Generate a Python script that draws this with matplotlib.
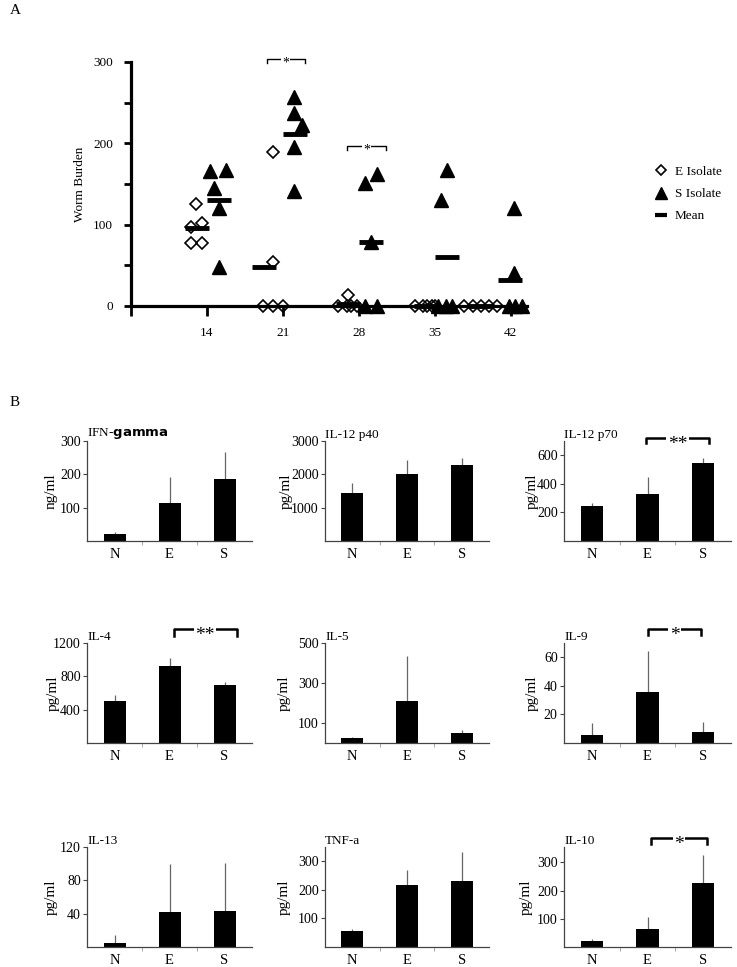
import numpy as np
import matplotlib.pyplot as plt
from matplotlib.lines import Line2D
from matplotlib.transforms import blended_transform_factory

plt.rcParams['font.family'] = ['Liberation Serif', 'DejaVu Serif']
plt.rcParams['mathtext.fontset'] = 'dejavusans'

# ---- panel A: worm burden, individual mice (x = day, jittered as in the figure)
days = [14, 21, 28, 35, 42]
e_x = [12.55, 13.55, 12.55, 13.55, 13.0,
       20.1, 20.1, 19.2, 20.1, 21.0,
       27.0, 26.05, 26.9, 27.8, 27.3,
       33.2, 33.9, 34.3, 34.7, 35.0,
       37.7, 38.5, 39.3, 40.0, 40.7]
e_y = [78, 78, 97, 102, 126,
       189, 54, 0, 0, 0,
       14, 0, 0, 0, 0,
       0, 0, 0, 0, 0,
       0, 0, 0, 0, 0]
s_x = [14.3, 15.8, 14.65, 15.1, 15.1,
       22.0, 22.0, 22.76, 22.0, 22.0,
       28.6, 29.7, 29.1, 28.6, 29.7,
       36.1, 35.6, 35.3, 36.0, 36.6,
       42.3, 42.3, 41.8, 42.4, 43.0]
s_y = [166, 167, 145, 120, 48,
       257, 237, 222, 196, 141,
       151, 162, 79, 0, 0,
       167, 130, 0, 0, 0,
       120, 40, 0, 0, 0]
mean_x = [13.05, 19.24, 27.0, 34.2, 39.2,
          15.15, 22.1, 29.1, 36.1, 41.9]
mean_y = [96, 48, 3, 0, 0,
          130, 212, 79, 60, 32]

# ---- panel B: cytokines
groups = ['N', 'E', 'S']
cytokines = ['IFN-$\\mathbf{gamma}$', 'IL-12 p40', 'IL-12 p70',
             'IL-4', 'IL-5', 'IL-9',
             'IL-13', 'TNF-a', 'IL-10']
units = ['ng/ml', 'pg/ml', 'pg/ml', 'pg/ml', 'pg/ml', 'pg/ml',
         'pg/ml', 'pg/ml', 'pg/ml']
values = [[21, 114, 187], [1430, 2010, 2280], [247, 328, 546],
          [500, 930, 700], [27, 212, 50], [5.4, 35.5, 8.0],
          [5, 42, 43], [55, 217, 232], [23, 65, 227]]
errors = [[5, 78, 79], [310, 430, 210], [19, 118, 33],
          [80, 90, 33], [5, 225, 17], [8.4, 29.2, 7.0],
          [10, 58, 58], [7, 52, 100], [5, 41, 99]]
ymax = [300, 3000, 700, 1200, 500, 70, 120, 350, 355]
yticks = [[100, 200, 300], [1000, 2000, 3000], [200, 400, 600],
          [400, 800, 1200], [100, 300, 500], [20, 40, 60],
          [40, 80, 120], [100, 200, 300], [100, 200, 300]]
# significance: panel index -> (label, x0, x1, y in axes frac, leg)
signif = {2: ('**', 0.98, 2.1, 1.03, 0.05),
          3: ('**', 1.08, 2.22, 1.14, 0.07),
          5: ('*', 1.0, 1.97, 1.14, 0.06),
          8: ('*', 1.07, 2.06, 1.09, 0.06)}

W, H = 737, 967
fig = plt.figure(figsize=(W / 100, H / 100), dpi=100)


def px_axes(l, t, r, b):
    return fig.add_axes([l / W, 1 - b / H, (r - l) / W, (b - t) / H])


def star(ax, trans, xm, y, txt, fs):
    ax.annotate(txt, xy=(xm, y), xycoords=trans, xytext=(0, -0.55 * fs),
                textcoords='offset points', ha='center', va='baseline',
                fontsize=fs, annotation_clip=False,
                bbox=dict(fc='white', ec='none', pad=1.0))


# ================= A
ax = px_axes(131, 62, 527, 306)
ax.plot(e_x, e_y, ls='none', marker='D', ms=6.3, mfc='none', mec='black',
        mew=1.2, clip_on=False, zorder=3)
ax.plot(s_x, s_y, ls='none', marker='^', ms=10, color='black',
        clip_on=False, zorder=4)
ax.plot(mean_x, mean_y, ls='none', marker='_', ms=17, mew=3.5,
        color='black', clip_on=False, zorder=5)
ax.set_xlim(7, 43.5)
ax.set_ylim(0, 300)
for s in ['top', 'right']:
    ax.spines[s].set_visible(False)
for s in ['left', 'bottom']:
    ax.spines[s].set_linewidth(2.3)
ax.set_yticks([0, 100, 200, 300])
ax.set_yticks([50, 150, 250], minor=True)
ax.tick_params(axis='y', which='both', direction='out', length=5, width=2,
               pad=8, labelsize=9.5)
ax.set_xticks([7] + days)
ax.set_xticklabels([''] + [str(d) for d in days])
ax.tick_params(axis='x', direction='out', length=7, width=2, pad=8,
               labelsize=9.5)
ax.set_ylabel('Worm Burden', fontsize=9.5)
ax.yaxis.set_label_coords(-0.113, 0.5)

for x0, x1, y in [(19.5, 23.0, 304), (26.9, 30.5, 197)]:
    ax.plot([x0, x0, x1, x1], [y - 5, y, y, y - 5], color='black', lw=1.0,
            clip_on=False)
    star(ax, ax.transData, (x0 + x1) / 2, y, '*', 10)

handles = [Line2D([], [], ls='none', marker='D', ms=5, mfc='none',
                  mec='black', mew=1.2),
           Line2D([], [], ls='none', marker='^', ms=8, color='black'),
           Line2D([], [], ls='none', marker='_', ms=8, mew=3, color='black')]
fig.legend(handles, ['E Isolate', 'S Isolate', 'Mean'], loc='center left',
           bbox_to_anchor=(643 / W, 1 - 194 / H), frameon=False,
           fontsize=9.5, handlelength=1.0, handletextpad=0.5,
           labelspacing=0.75)

fig.text(10 / W, 1 - 10 / H, 'A', fontsize=11, va='center', ha='left')
fig.text(10 / W, 1 - 403 / H, 'B', fontsize=11, va='center', ha='left')

# ================= B
lefts = [87, 325, 564]
rights = [252, 489, 731]
tops = [441, 643, 847]
bottoms = [541, 743, 947]
ylab_x = [50, 285, 531, 52, 283, 531, 50, 283, 525]

for i in range(9):
    r, c = divmod(i, 3)
    ax = px_axes(lefts[c], tops[r], rights[c], bottoms[r])
    xs = np.arange(len(groups))
    ax.bar(xs, values[i], width=0.4, color='black', zorder=2)
    ax.errorbar(xs, values[i], yerr=[[0, 0, 0], errors[i]], fmt='none',
                ecolor='#666666', elinewidth=0.9, capsize=0, zorder=1)
    ax.set_xlim(-0.5, 2.5)
    ax.set_ylim(0, ymax[i])
    for s in ['top', 'right']:
        ax.spines[s].set_visible(False)
    for s in ['left', 'bottom']:
        ax.spines[s].set_linewidth(0.9)
        ax.spines[s].set_color('#444444')
    ax.set_yticks(yticks[i])
    ax.tick_params(axis='y', length=3, width=0.8, color='#444444', pad=1.5,
                   labelsize=10)
    ax.set_xticks(xs)
    ax.set_xticklabels(groups)
    ax.set_xticks([0.5, 1.5], minor=True)
    ax.tick_params(axis='x', which='major', length=0, pad=5, labelsize=10.5)
    ax.tick_params(axis='x', which='minor', length=3, width=0.6,
                   color='#999999')
    ax.set_ylabel(units[i], fontsize=11)
    w = rights[c] - lefts[c]
    ax.yaxis.set_label_coords((ylab_x[i] + 8 - lefts[c]) / w, 0.5)
    ax.text(0.0, 1.0, cytokines[i], transform=ax.transAxes, ha='left',
            va='bottom', fontsize=9.5)
    if i in signif:
        txt, x0, x1, y, leg = signif[i]
        trans = blended_transform_factory(ax.transData, ax.transAxes)
        ax.plot([x0, x0, x1, x1], [y - leg, y, y, y - leg], color='black',
                lw=1.8, transform=trans, clip_on=False)
        star(ax, trans, (x0 + x1) / 2, y, txt, 14)

fig.savefig('out.png', dpi=100)
